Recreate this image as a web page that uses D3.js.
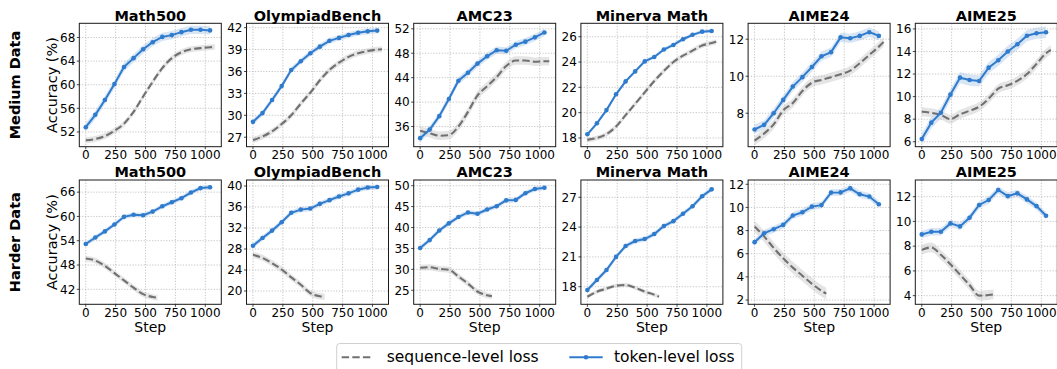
<!DOCTYPE html>
<html>
<head>
<meta charset="utf-8">
<script src="https://cdn.jsdelivr.net/npm/d3@7"></script>
<style>
  body { margin: 0; background: #fff; }
  svg { display: block; }
  text { font-family: "DejaVu Sans", sans-serif; fill: #000; }
</style>
</head>
<body>
<svg id="chart" width="1057" height="369"></svg>
<script>
// ---- data ----
const benchmarks = ["Math500", "OlympiadBench", "AMC23", "Minerva Math", "AIME24", "AIME25"];
const rowNames = ["Medium Data", "Harder Data"];
const seriesNames = ["sequence-level loss", "token-level loss"];

const tokenSteps = [0, 80, 160, 240, 320, 400, 480, 560, 640, 720, 800, 880, 960, 1040];
const seqStepsMedium = [0, 80, 160, 240, 320, 400, 480, 560, 640, 720, 800, 880, 960, 1040, 1080];
const seqStepsHarder = [0, 80, 160, 240, 320, 400, 480, 560, 600];
const xTicks = [0, 250, 500, 750, 1000];

// Medium data: token-level loss
const medTokenMath500 = [52.8, 54.9, 57.4, 60.1, 63.0, 64.5, 66.0, 67.2, 68.1, 68.4, 68.9, 69.3, 69.3, 69.2];
const medTokenOlympiad = [29.1, 30.3, 32.1, 34.0, 36.2, 37.4, 38.5, 39.4, 40.2, 40.6, 41.0, 41.3, 41.5, 41.6];
const medTokenAMC23 = [34.1, 35.5, 37.7, 40.5, 43.5, 44.8, 46.3, 47.5, 48.5, 48.4, 49.4, 49.9, 50.6, 51.4];
const medTokenMinerva = [18.29, 19.16, 20.2, 21.45, 22.47, 23.26, 24.05, 24.4, 24.99, 25.35, 25.8, 26.15, 26.4, 26.45];
const medTokenAIME24 = [7.12, 7.37, 8.0, 8.72, 9.44, 9.95, 10.5, 11.08, 11.3, 12.1, 12.05, 12.18, 12.38, 12.18];
const medTokenAIME25 = [6.24, 7.69, 8.57, 10.18, 11.68, 11.47, 11.39, 12.57, 13.22, 14.0, 14.64, 15.4, 15.62, 15.7];

// Medium data: sequence-level loss
const medSeqMath500 = [50.6, 50.8, 51.3, 52.2, 53.4, 55.4, 58.0, 60.5, 62.8, 64.5, 65.5, 66.0, 66.2, 66.35, 66.4];
const medSeqOlympiad = [26.6, 27.1, 27.8, 28.8, 30.0, 31.6, 33.1, 34.8, 36.2, 37.2, 38.0, 38.5, 38.8, 39.0, 39.05];
const medSeqAMC23 = [35.3, 34.9, 34.5, 34.6, 36.0, 38.4, 41.1, 42.6, 44.1, 45.9, 46.8, 46.8, 46.6, 46.7, 46.7];
const medSeqMinerva = [17.85, 18.0, 18.3, 18.9, 19.8, 20.7, 21.6, 22.5, 23.3, 24.0, 24.5, 24.9, 25.3, 25.5, 25.6];
const medSeqAIME24 = [6.52, 6.9, 7.4, 8.15, 8.55, 9.2, 9.65, 9.8, 9.95, 10.1, 10.3, 10.7, 11.15, 11.6, 11.85];
const medSeqAIME25 = [8.66, 8.57, 8.37, 8.0, 8.43, 8.75, 9.1, 9.82, 10.7, 11.0, 11.4, 12.0, 12.9, 13.85, 14.15];

// Harder data: token-level loss
const hardTokenMath500 = [53.2, 54.8, 56.3, 58.0, 59.9, 60.4, 60.3, 61.2, 62.5, 63.5, 64.5, 65.9, 67.0, 67.2];
const hardTokenOlympiad = [28.63, 30.1, 31.5, 33.1, 34.9, 35.5, 35.7, 36.6, 37.3, 38.0, 38.6, 39.3, 39.7, 39.8];
const hardTokenAMC23 = [35.1, 37.0, 39.3, 41.0, 42.5, 43.6, 43.3, 44.3, 45.1, 46.5, 46.6, 48.2, 49.2, 49.5];
const hardTokenMinerva = [17.67, 18.67, 19.68, 21.0, 22.1, 22.6, 22.8, 23.3, 24.1, 24.6, 25.35, 26.1, 27.1, 27.8];
const hardTokenAIME24 = [7.0, 7.77, 8.12, 8.49, 9.3, 9.58, 10.07, 10.2, 11.28, 11.3, 11.65, 11.14, 10.94, 10.27];
const hardTokenAIME25 = [8.95, 9.16, 9.16, 9.84, 9.6, 10.3, 11.33, 11.73, 12.54, 12.05, 12.27, 11.78, 11.24, 10.46];

// Harder data: sequence-level loss
const hardSeqMath500 = [49.6, 49.1, 47.8, 46.0, 44.2, 42.4, 40.8, 40.1, 39.9];
const hardSeqOlympiad = [26.9, 26.3, 25.3, 24.1, 22.6, 21.2, 19.6, 19.0, 18.9];
const hardSeqAMC23 = [30.4, 30.5, 30.1, 29.9, 28.3, 26.6, 24.7, 23.8, 23.6];
const hardSeqMinerva = [16.99, 17.5, 17.8, 18.1, 18.17, 17.9, 17.5, 17.2, 17.0];
const hardSeqAIME24 = [8.35, 7.5, 6.5, 5.6, 4.8, 4.1, 3.4, 2.8, 2.55];
const hardSeqAIME25 = [7.7, 7.9, 7.3, 6.54, 5.7, 4.86, 4.0, 4.05, 4.1];

// spread (half-width of shaded band) per panel
const medTokenSpread = [0.7, 0.4, 0.6, 0.15, 0.25, 0.5];
const medSeqSpread = [0.5, 0.4, 0.7, 0.2, 0.25, 0.4];
const hardTokenSpread = [0.6, 0.5, 0.6, 0.25, 0.3, 0.3];
const hardSeqSpread = [0.7, 0.6, 0.7, 0.2, 0.5, 0.4];

// axis limits and ticks per panel
const medYDomains = [[49.5, 70.4], [25.7, 42.6], [32.7, 52.9], [17.31, 27.06], [6.19, 12.86], [5.56, 16.5]];
const hardYDomains = [[38.3, 69.0], [17.47, 41.14], [21.65, 51.36], [16.23, 28.74], [1.63, 12.37], [3.3, 13.35]];
const medYTicks = [[52, 56, 60, 64, 68], [27, 30, 33, 36, 39, 42], [36, 40, 44, 48, 52], [18, 20, 22, 24, 26], [8, 10, 12], [6, 8, 10, 12, 14, 16]];
const hardYTicks = [[42, 48, 54, 60, 66], [20, 24, 28, 32, 36, 40], [25, 30, 35, 40, 45, 50], [18, 21, 24, 27], [2, 4, 6, 8, 10, 12], [4, 6, 8, 10, 12]];

const rows = [
  {
    name: rowNames[0], seqSteps: seqStepsMedium,
    token: [medTokenMath500, medTokenOlympiad, medTokenAMC23, medTokenMinerva, medTokenAIME24, medTokenAIME25],
    seq: [medSeqMath500, medSeqOlympiad, medSeqAMC23, medSeqMinerva, medSeqAIME24, medSeqAIME25],
    tokenSpread: medTokenSpread, seqSpread: medSeqSpread, yDomains: medYDomains, yTicks: medYTicks
  },
  {
    name: rowNames[1], seqSteps: seqStepsHarder,
    token: [hardTokenMath500, hardTokenOlympiad, hardTokenAMC23, hardTokenMinerva, hardTokenAIME24, hardTokenAIME25],
    seq: [hardSeqMath500, hardSeqOlympiad, hardSeqAMC23, hardSeqMinerva, hardSeqAIME24, hardSeqAIME25],
    tokenSpread: hardTokenSpread, seqSpread: hardSeqSpread, yDomains: hardYDomains, yTicks: hardYTicks
  }
];

// ---- layout ----
const panelLeft = 79.3, panelStep = 167.2, panelW = 142;
const rowTop = [23.3, 180], rowH = [123.4, 124.3];
const blue = "#2f7bcd", blueBand = "#c9dcf2";
const grey = "#707070", greyBand = "#dcdcdc";

const svg = d3.select("#chart");
const x = d3.scaleLinear().domain([-54, 1134]).range([0, panelW]);

rows.forEach((row, r) => {
  const top = rowTop[r], h = rowH[r];

  // row label
  svg.append("text")
    .attr("transform", `translate(20,${top + h / 2}) rotate(-90)`)
    .attr("text-anchor", "middle")
    .style("font-size", "14.5px").style("font-weight", "bold")
    .text(row.name);

  benchmarks.forEach((bench, c) => {
    const left = panelLeft + c * panelStep;
    const y = d3.scaleLinear().domain(row.yDomains[c]).range([h, 0]);
    const g = svg.append("g").attr("transform", `translate(${left},${top})`);

    const clipId = `clip-${r}-${c}`;
    g.append("clipPath").attr("id", clipId)
      .append("rect").attr("width", panelW).attr("height", h);
    const plot = g.append("g").attr("clip-path", `url(#${clipId})`);

    const tokenPts = tokenSteps.map((s, i) => ({ s, v: row.token[c][i] }));
    const seqPts = row.seqSteps.map((s, i) => ({ s, v: row.seq[c][i] }));
    const ts = row.tokenSpread[c], ss = row.seqSpread[c];

    // shaded bands
    plot.append("path").datum(seqPts)
      .attr("fill", greyBand).attr("fill-opacity", 0.75)
      .attr("d", d3.area().curve(d3.curveMonotoneX)
        .x(d => x(d.s)).y0(d => y(d.v - ss)).y1(d => y(d.v + ss)));
    plot.append("path").datum(tokenPts)
      .attr("fill", blueBand).attr("fill-opacity", 0.75)
      .attr("d", d3.area()
        .x(d => x(d.s)).y0(d => y(d.v - ts)).y1(d => y(d.v + ts)));

    // grid
    const grid = plot.append("g").attr("stroke", "#b5b5b5").attr("stroke-width", 0.8)
      .attr("stroke-dasharray", "1.2,1.6");
    xTicks.forEach(t => grid.append("line")
      .attr("x1", x(t)).attr("x2", x(t)).attr("y1", 0).attr("y2", h));
    row.yTicks[c].forEach(t => grid.append("line")
      .attr("x1", 0).attr("x2", panelW).attr("y1", y(t)).attr("y2", y(t)));

    // sequence-level line
    plot.append("path").datum(seqPts)
      .attr("fill", "none").attr("stroke", grey).attr("stroke-width", 2.1)
      .attr("stroke-dasharray", "7.4,3.2")
      .attr("d", d3.line().curve(d3.curveMonotoneX).x(d => x(d.s)).y(d => y(d.v)));

    // token-level line with markers
    plot.append("path").datum(tokenPts)
      .attr("fill", "none").attr("stroke", blue).attr("stroke-width", 2)
      .attr("d", d3.line().x(d => x(d.s)).y(d => y(d.v)));
    plot.selectAll("circle.pt").data(tokenPts).enter().append("circle")
      .attr("class", "pt")
      .attr("cx", d => x(d.s)).attr("cy", d => y(d.v)).attr("r", 2.3)
      .attr("fill", blue);

    // frame
    g.append("rect").attr("width", panelW).attr("height", h)
      .attr("fill", "none").attr("stroke", "#1a1a1a").attr("stroke-width", 1);

    // x axis ticks
    xTicks.forEach(t => {
      g.append("line").attr("x1", x(t)).attr("x2", x(t)).attr("y1", h).attr("y2", h + 2.5)
        .attr("stroke", "#1a1a1a").attr("stroke-width", 0.8);
      g.append("text").attr("x", x(t)).attr("y", h + 12.4)
        .attr("text-anchor", "middle").style("font-size", "12px").text(t);
    });
    // y axis ticks
    row.yTicks[c].forEach(t => {
      g.append("line").attr("x1", -2.5).attr("x2", 0).attr("y1", y(t)).attr("y2", y(t))
        .attr("stroke", "#1a1a1a").attr("stroke-width", 0.8);
      g.append("text").attr("x", -4).attr("y", y(t)).attr("dy", "0.36em")
        .attr("text-anchor", "end").style("font-size", "12px").text(t);
    });

    // title
    g.append("text").attr("x", panelW / 2).attr("y", -2.7)
      .attr("text-anchor", "middle")
      .style("font-size", "14.5px").style("font-weight", "bold")
      .text(bench);

    if (c === 0) {
      g.append("text")
        .attr("transform", `translate(${-27.6},${h / 2}) rotate(-90)`)
        .attr("text-anchor", "middle").attr("dy", "0.35em")
        .style("font-size", "14.5px").text("Accuracy (%)");
    }
    if (r === 1) {
      g.append("text").attr("x", panelW / 2).attr("y", h + 27.2)
        .attr("text-anchor", "middle").style("font-size", "14px").text("Step");
    }
  });
});

// ---- legend ----
const legend = svg.append("g");
legend.append("rect")
  .attr("x", 336.7).attr("y", 343.5).attr("width", 405).attr("height", 32).attr("rx", 3)
  .attr("fill", "#fff").attr("stroke", "#d0d0d0").attr("stroke-width", 1);
legend.append("line")
  .attr("x1", 341.7).attr("x2", 371.7).attr("y1", 357.3).attr("y2", 357.3)
  .attr("stroke", grey).attr("stroke-width", 2.1).attr("stroke-dasharray", "7.4,3.2");
legend.append("text").attr("x", 386.7).attr("y", 361.6)
  .style("font-size", "15.5px").text(seriesNames[0]);
legend.append("line")
  .attr("x1", 569.3).attr("x2", 602.7).attr("y1", 357.3).attr("y2", 357.3)
  .attr("stroke", blue).attr("stroke-width", 2);
legend.append("circle").attr("cx", 586).attr("cy", 357.3).attr("r", 2.3).attr("fill", blue);
legend.append("text").attr("x", 614).attr("y", 361.6)
  .style("font-size", "15.5px").text(seriesNames[1]);
</script>
</body>
</html>
